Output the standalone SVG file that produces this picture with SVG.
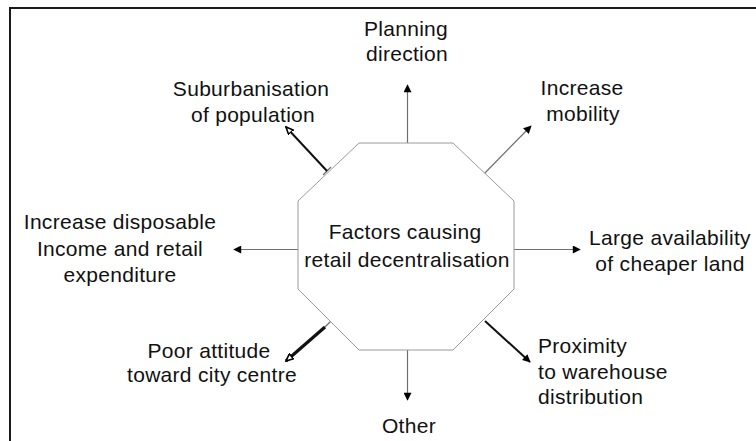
<svg xmlns="http://www.w3.org/2000/svg" width="756" height="441" viewBox="0 0 756 441">
  <style>
    .lbl { font-family: "Liberation Sans", Arial, sans-serif; font-size: 21px; fill: #111; letter-spacing: 0.3px; text-anchor: middle; }
    .left { text-anchor: start; }
    .frame { fill: none; stroke: #1a1a1a; stroke-width: 2; }
    .oct { fill: #fff; stroke: #9a9a9a; stroke-width: 1; }
    .thin { stroke: #6e6e6e; stroke-width: 1.2; fill: none; }
    .bold2 { stroke: #111; stroke-width: 2; fill: none; }
    .bold3 { stroke: #111; stroke-width: 3.2; fill: none; }
  </style>
  <defs>
    <marker id="head" viewBox="0 0 10 10" refX="9" refY="5" markerWidth="9" markerHeight="8" markerUnits="userSpaceOnUse" orient="auto">
      <path d="M0,0 L10,5 L0,10 z" fill="#000"/>
    </marker>
    <marker id="headOpen" viewBox="0 0 10 10" refX="9" refY="5" markerWidth="9" markerHeight="8" markerUnits="userSpaceOnUse" orient="auto">
      <path d="M0,1 L9,5 L0,9 z" fill="#fff" stroke="#000" stroke-width="2"/>
    </marker>
  </defs>

  <rect width="756" height="441" fill="#fff"/>
  <!-- outer frame (top and left edges) -->
  <path class="frame" d="M10,441 V8 H756"/>

  <!-- connectors -->
  <g id="connectors">
    <line class="thin" x1="407.5" y1="143" x2="407.5" y2="85" marker-end="url(#head)"/>
    <line class="thin" x1="481" y1="177" x2="531" y2="126" marker-end="url(#head)"/>
    <line class="thin" x1="514" y1="249.5" x2="580" y2="249.5" marker-end="url(#head)"/>
    <line class="thin" x1="407.5" y1="350" x2="407.5" y2="400" marker-end="url(#head)"/>
    <line class="thin" x1="298" y1="249.5" x2="234" y2="249.5" marker-end="url(#head)"/>
    <!-- upper-left: short tick at the octagon, then heavy shaft -->
    <line class="thin" x1="331" y1="167" x2="323" y2="175"/>
    <line class="bold2" x1="327" y1="171" x2="286" y2="127" marker-end="url(#headOpen)"/>
    <!-- lower-left -->
    <line class="thin" x1="333" y1="319" x2="325" y2="327"/>
    <line class="bold3" x1="325" y1="327" x2="286" y2="361" marker-end="url(#headOpen)"/>
    <!-- lower-right -->
    <line class="bold2" x1="485" y1="321" x2="530" y2="362" marker-end="url(#head)"/>
  </g>

  <!-- central node -->
  <g id="centre">
    <polygon class="oct" points="359,143 453,143 514,201 514,289 453,350 359,350 298,289 298,201"/>
    <text class="lbl" x="405" y="239">Factors causing</text>
    <text class="lbl" x="407" y="266.5">retail decentralisation</text>
  </g>

  <g id="planning">
    <text class="lbl" x="406" y="36">Planning</text>
    <text class="lbl" x="407" y="61">direction</text>
  </g>

  <g id="suburbanisation">
    <text class="lbl" x="251" y="96">Suburbanisation</text>
    <text class="lbl" x="253" y="122">of population</text>
  </g>

  <g id="mobility">
    <text class="lbl" x="582" y="95">Increase</text>
    <text class="lbl" x="583" y="121">mobility</text>
  </g>

  <g id="income">
    <text class="lbl" x="120" y="229">Increase disposable</text>
    <text class="lbl" x="120" y="256">Income and retail</text>
    <text class="lbl" x="120" y="282">expenditure</text>
  </g>

  <g id="land">
    <text class="lbl" x="670" y="245">Large availability</text>
    <text class="lbl" x="670" y="271">of cheaper land</text>
  </g>

  <g id="attitude">
    <text class="lbl" x="209" y="358">Poor attitude</text>
    <text class="lbl" x="212" y="382">toward city centre</text>
  </g>

  <g id="proximity">
    <text class="lbl left" x="538" y="353">Proximity</text>
    <text class="lbl left" x="538" y="379">to warehouse</text>
    <text class="lbl left" x="538" y="404">distribution</text>
  </g>

  <g id="other">
    <text class="lbl" x="409" y="433">Other</text>
  </g>
</svg>
